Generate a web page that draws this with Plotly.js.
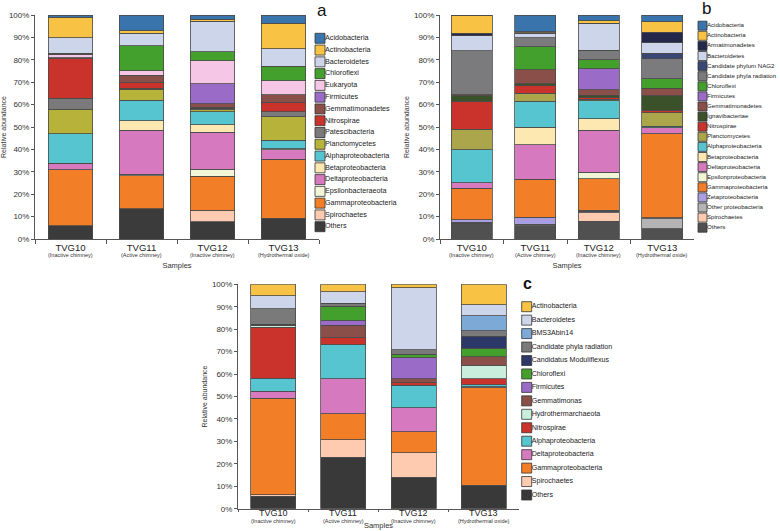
<!DOCTYPE html>
<html>
<head>
<meta charset="utf-8">
<script src="https://cdn.plot.ly/plotly-3.0.1.min.js"></script>
<style>html,body{margin:0;padding:0;background:#fff;}#chart{width:780px;height:531px;}</style>
</head>
<body>
<div id="chart"></div>
<script>
// ---------- shared ----------
const samples = ['TVG10', 'TVG11', 'TVG12', 'TVG13'];
const sampleNotes = ['(Inactive chimney)', '(Active chimney)', '(Inactive chimney)', '(Hydrothermal oxide)'];

// ---------- panel a (legend order, top to bottom) ----------
const aTaxa = ['Acidobacteria','Actinobacteria','Bacteroidetes','Chloroflexi','Eukaryota','Firmicutes','Gemmatimonadetes','Nitrospirae','Patescibacteria','Planctomycetes','Alphaproteobacteria','Betaproteobacteria','Deltaproteobacteria','Epsilonbacteraeota','Gammaproteobacteria','Spirochaetes','Others'];
const aColors = ['#3a74ad','#f8c244','#cdd5ea','#44a02c','#f5c6e5','#9a6bc7','#8a4f48','#c9332c','#7a7a7a','#b6b23a','#57c5d0','#fde8b2','#d779bf','#f1f7d6','#f27f27','#fecbb0','#3b3b3b'];
const aVals = [
  [1.1, 7.0, 1.8, 3.6],
  [9.0, 1.2, 0.9, 11.4],
  [7.0, 5.5, 13.8, 7.9],
  [0.4, 11.2, 4.0, 6.4],
  [1.6, 2.0, 10.2, 6.4],
  [0.0, 0.0, 9.0, 0.0],
  [0.5, 3.3, 1.4, 3.3],
  [17.6, 2.6, 0.6, 4.3],
  [4.8, 0.4, 0.6, 2.2],
  [11.0, 4.8, 1.0, 10.4],
  [13.2, 9.2, 5.7, 3.8],
  [0.0, 4.3, 3.4, 0.5],
  [2.8, 19.5, 16.5, 4.2],
  [0.0, 0.7, 3.0, 0.0],
  [25.0, 14.9, 15.2, 26.4],
  [0.0, 0.0, 5.2, 0.0],
  [6.0, 13.4, 7.7, 9.2]
];

// ---------- panel b ----------
const bTaxa = ['Acidobacteria','Actinobacteria','Armatimonadetes','Bacteroidetes','Candidate phylum NAG2','Candidate phyla radiation','Chloroflexi','Firmicutes','Gemmatimonadetes','Ignavibacteriae','Nitrospirae','Planctomycetes','Alphaproteobacteria','Betaproteobacteria','Deltaproteobacteria','Epsilonproteobacteria','Gammaproteobacteria','Zetaproteobacteria','Other proteobacteria','Spirochaetes','Others'];
const bColors = ['#3a74ad','#f8c244','#24284a','#cdd5ea','#394776','#7b7b7e','#44a02c','#9a6bc7','#8a4f48','#3a5129','#c9332c','#aba64b','#57c5d0','#fde8b2','#d779bf','#f1f7d6','#f27f27','#a99fe0','#b4b4b4','#fecbb0','#505050'];
const bVals = [
  [0.2, 7.4, 2.6, 3.1],
  [8.0, 0.5, 1.1, 4.6],
  [1.0, 0.3, 0.0, 4.6],
  [6.8, 1.9, 12.1, 4.8],
  [0.0, 0.0, 0.0, 2.4],
  [19.5, 4.0, 4.1, 8.9],
  [0.0, 10.4, 4.2, 4.4],
  [0.0, 0.0, 9.2, 0.0],
  [0.5, 6.3, 2.6, 3.3],
  [2.6, 0.8, 1.1, 6.6],
  [12.4, 3.3, 0.6, 1.0],
  [9.2, 3.7, 0.6, 6.0],
  [14.7, 11.5, 8.2, 0.7],
  [0.0, 7.9, 5.0, 0.0],
  [2.4, 15.4, 18.9, 2.6],
  [0.0, 0.0, 2.8, 0.0],
  [14.2, 16.9, 14.0, 37.6],
  [1.0, 3.1, 0.6, 0.3],
  [0.5, 0.7, 0.5, 4.6],
  [0.0, 0.0, 3.9, 0.0],
  [7.0, 5.9, 7.9, 4.5]
];

// ---------- panel c ----------
const cTaxa = ['Actinobacteria','Bacteroidetes','BMS3Abin14','Candidate phyla radiation','Candidatus Moduliflexus','Chloroflexi','Firmicutes','Gemmatimonas','Hydrothermarchaeota','Nitrospirae','Alphaproteobacteria','Deltaproteobacteria','Gammaproteobacteria','Spirochaetes','Others'];
const cColors = ['#f8c244','#cdd5ea','#7ca9d6','#7a7a7a','#2c3867','#44a02c','#9a6bc7','#8a4f48','#c9efdc','#c9332c','#57c5d0','#d779bf','#f27f27','#fecbb0','#393939'];
const cVals = [
  [5.1, 3.3, 1.5, 9.2],
  [5.7, 5.2, 27.6, 4.8],
  [0.0, 0.0, 0.0, 6.7],
  [7.0, 1.3, 2.0, 2.5],
  [0.4, 0.0, 0.0, 5.2],
  [0.0, 6.5, 1.7, 3.8],
  [0.0, 2.0, 9.4, 0.0],
  [0.0, 5.5, 1.6, 3.8],
  [1.0, 0.0, 0.0, 6.1],
  [22.6, 3.1, 1.1, 2.7],
  [5.9, 15.2, 10.1, 0.9],
  [3.0, 15.6, 10.7, 0.4],
  [43.1, 11.5, 9.3, 43.5],
  [0.6, 7.8, 10.9, 0.0],
  [5.6, 23.0, 14.1, 10.4]
];

// ---------- build ----------
const FONT = 'Liberation Sans, Arial, sans-serif';
const W = 780, H = 531;

const traces = [];
function addBars(taxa, colors, vals, xa, ya, bw) {
  for (let k = taxa.length - 1; k >= 0; k--) {
    traces.push({
      type: 'bar', x: samples, y: vals[k], name: taxa[k], xaxis: xa, yaxis: ya,
      width: bw, showlegend: false, hoverinfo: 'name+y',
      marker: {color: colors[k], line: {color: '#4a4a4a', width: 0.8}}
    });
  }
}
// key axes are in pixel units measured from the swatch centre
function addKey(taxa, colors, xa, ya, msize, fsize, gap) {
  traces.push({
    type: 'scatter', mode: 'markers', xaxis: xa, yaxis: ya,
    x: taxa.map(() => 0), y: taxa.map((t, i) => i),
    cliponaxis: false, showlegend: false, hoverinfo: 'skip',
    marker: {symbol: 'square', size: msize, color: colors, line: {color: '#333', width: 0.8}}
  });
  traces.push({
    type: 'scatter', mode: 'text', xaxis: xa, yaxis: ya,
    x: taxa.map(() => gap), y: taxa.map((t, i) => i), text: taxa,
    textposition: 'middle right', cliponaxis: false, showlegend: false, hoverinfo: 'skip',
    textfont: {family: FONT, size: fsize, color: '#222222'}
  });
}
addBars(aTaxa, aColors, aVals, 'x', 'y', 0.63);
addBars(bTaxa, bColors, bVals, 'x2', 'y2', 0.645);
addBars(cTaxa, cColors, cVals, 'x3', 'y3', 0.64);
addKey(aTaxa, aColors, 'x4', 'y4', 10, 7.2, 5);
addKey(bTaxa, bColors, 'x5', 'y5', 9, 6.1, 4.5);
addKey(cTaxa, cColors, 'x6', 'y6', 10, 7.1, 5);

function px(x) { return x / W; }
function py(y) { return 1 - y / H; }

function xAx(x0, x1, tl, so) {
  return {
    domain: [px(x0), px(x1)], type: 'category', tickvals: samples, ticktext: samples,
    tickson: 'boundaries', ticks: 'outside', ticklen: tl, tickcolor: '#555',
    showline: true, linecolor: '#555', linewidth: 1, showgrid: false, zeroline: false,
    tickfont: {family: FONT, size: 9.5, color: '#222'}, automargin: false,
    title: {text: 'Samples', font: {family: FONT, size: 7.5, color: '#333'}, standoff: so}
  };
}
function yAx(yTop, yBot, anchor) {
  return {
    domain: [py(yBot), py(yTop)], range: [0, 100], dtick: 10, ticksuffix: '%',
    ticks: 'outside', ticklen: 3, tickcolor: '#555', showline: true, linecolor: '#555', linewidth: 1,
    showgrid: false, zeroline: false, anchor: anchor, automargin: false,
    tickfont: {family: FONT, size: 8, color: '#333'},
    title: {text: 'Relative abundance', font: {family: FONT, size: 7, color: '#333'}, standoff: 3}
  };
}
function keyX(x0, anchor) {
  return {domain: [px(x0), 1], range: [0, W - x0], visible: false, anchor: anchor, fixedrange: true};
}
function keyY(yTop, yBot, n, anchor) {
  return {domain: [py(yBot), py(yTop)], range: [n - 0.5, -0.5], visible: false, anchor: anchor, fixedrange: true};
}

const annotations = [
  {text: 'a', xref: 'paper', yref: 'paper', x: px(322), y: py(11), xanchor: 'center', yanchor: 'middle', showarrow: false, font: {family: FONT, size: 17, color: '#111'}},
  {text: 'b', xref: 'paper', yref: 'paper', x: px(706), y: py(9), xanchor: 'center', yanchor: 'middle', showarrow: false, font: {family: FONT, size: 17, color: '#111'}},
  {text: '<b>c</b>', xref: 'paper', yref: 'paper', x: px(527), y: py(283), xanchor: 'center', yanchor: 'middle', showarrow: false, font: {family: FONT, size: 16, color: '#111'}}
];
[['x', 254.5], ['x2', 254.5], ['x3', 520.8]].forEach(([xr, yy]) => {
  samples.forEach((s, i) => annotations.push({
    text: sampleNotes[i], xref: xr, yref: 'paper', x: s, y: py(yy), xanchor: 'center', yanchor: 'middle',
    showarrow: false, font: {family: FONT, size: 5.5, color: '#333'}
  }));
});
// panel c sample names sit closer to its axis than the other panels
samples.forEach((s) => annotations.push({
  text: s, xref: 'x3', yref: 'paper', x: s, y: py(512.9), xanchor: 'center', yanchor: 'middle',
  showarrow: false, font: {family: FONT, size: 9, color: '#222'}
}));

const xc = xAx(238, 519, 2, 14);
xc.showticklabels = false;

const layout = {
  width: W, height: H, margin: {l: 0, r: 0, t: 0, b: 0},
  paper_bgcolor: '#fff', plot_bgcolor: 'rgba(0,0,0,0)',
  barmode: 'stack', showlegend: false,
  font: {family: FONT, color: '#333'},
  xaxis: Object.assign(xAx(35, 319, 4, 10), {anchor: 'y'}),
  yaxis: yAx(15, 239, 'x'),
  xaxis2: Object.assign(xAx(440, 694, 4, 10), {anchor: 'y2'}),
  yaxis2: yAx(15, 239, 'x2'),
  xaxis3: Object.assign(xc, {anchor: 'y3'}),
  yaxis3: yAx(284.3, 508.7, 'x3'),
  xaxis4: keyX(320, 'y4'),
  yaxis4: keyY(38.3 - 5.89, 226.7 + 5.89, aTaxa.length, 'x4'),
  xaxis5: keyX(702.5, 'y5'),
  yaxis5: keyY(25.7 - 5.05, 227.7 + 5.05, bTaxa.length, 'x5'),
  xaxis6: keyX(526.7, 'y6'),
  yaxis6: keyY(306.7 - 6.72, 495 + 6.72, cTaxa.length, 'x6'),
  annotations: annotations
};

Plotly.newPlot('chart', traces, layout, {displayModeBar: false, staticPlot: true});
</script>
</body>
</html>
